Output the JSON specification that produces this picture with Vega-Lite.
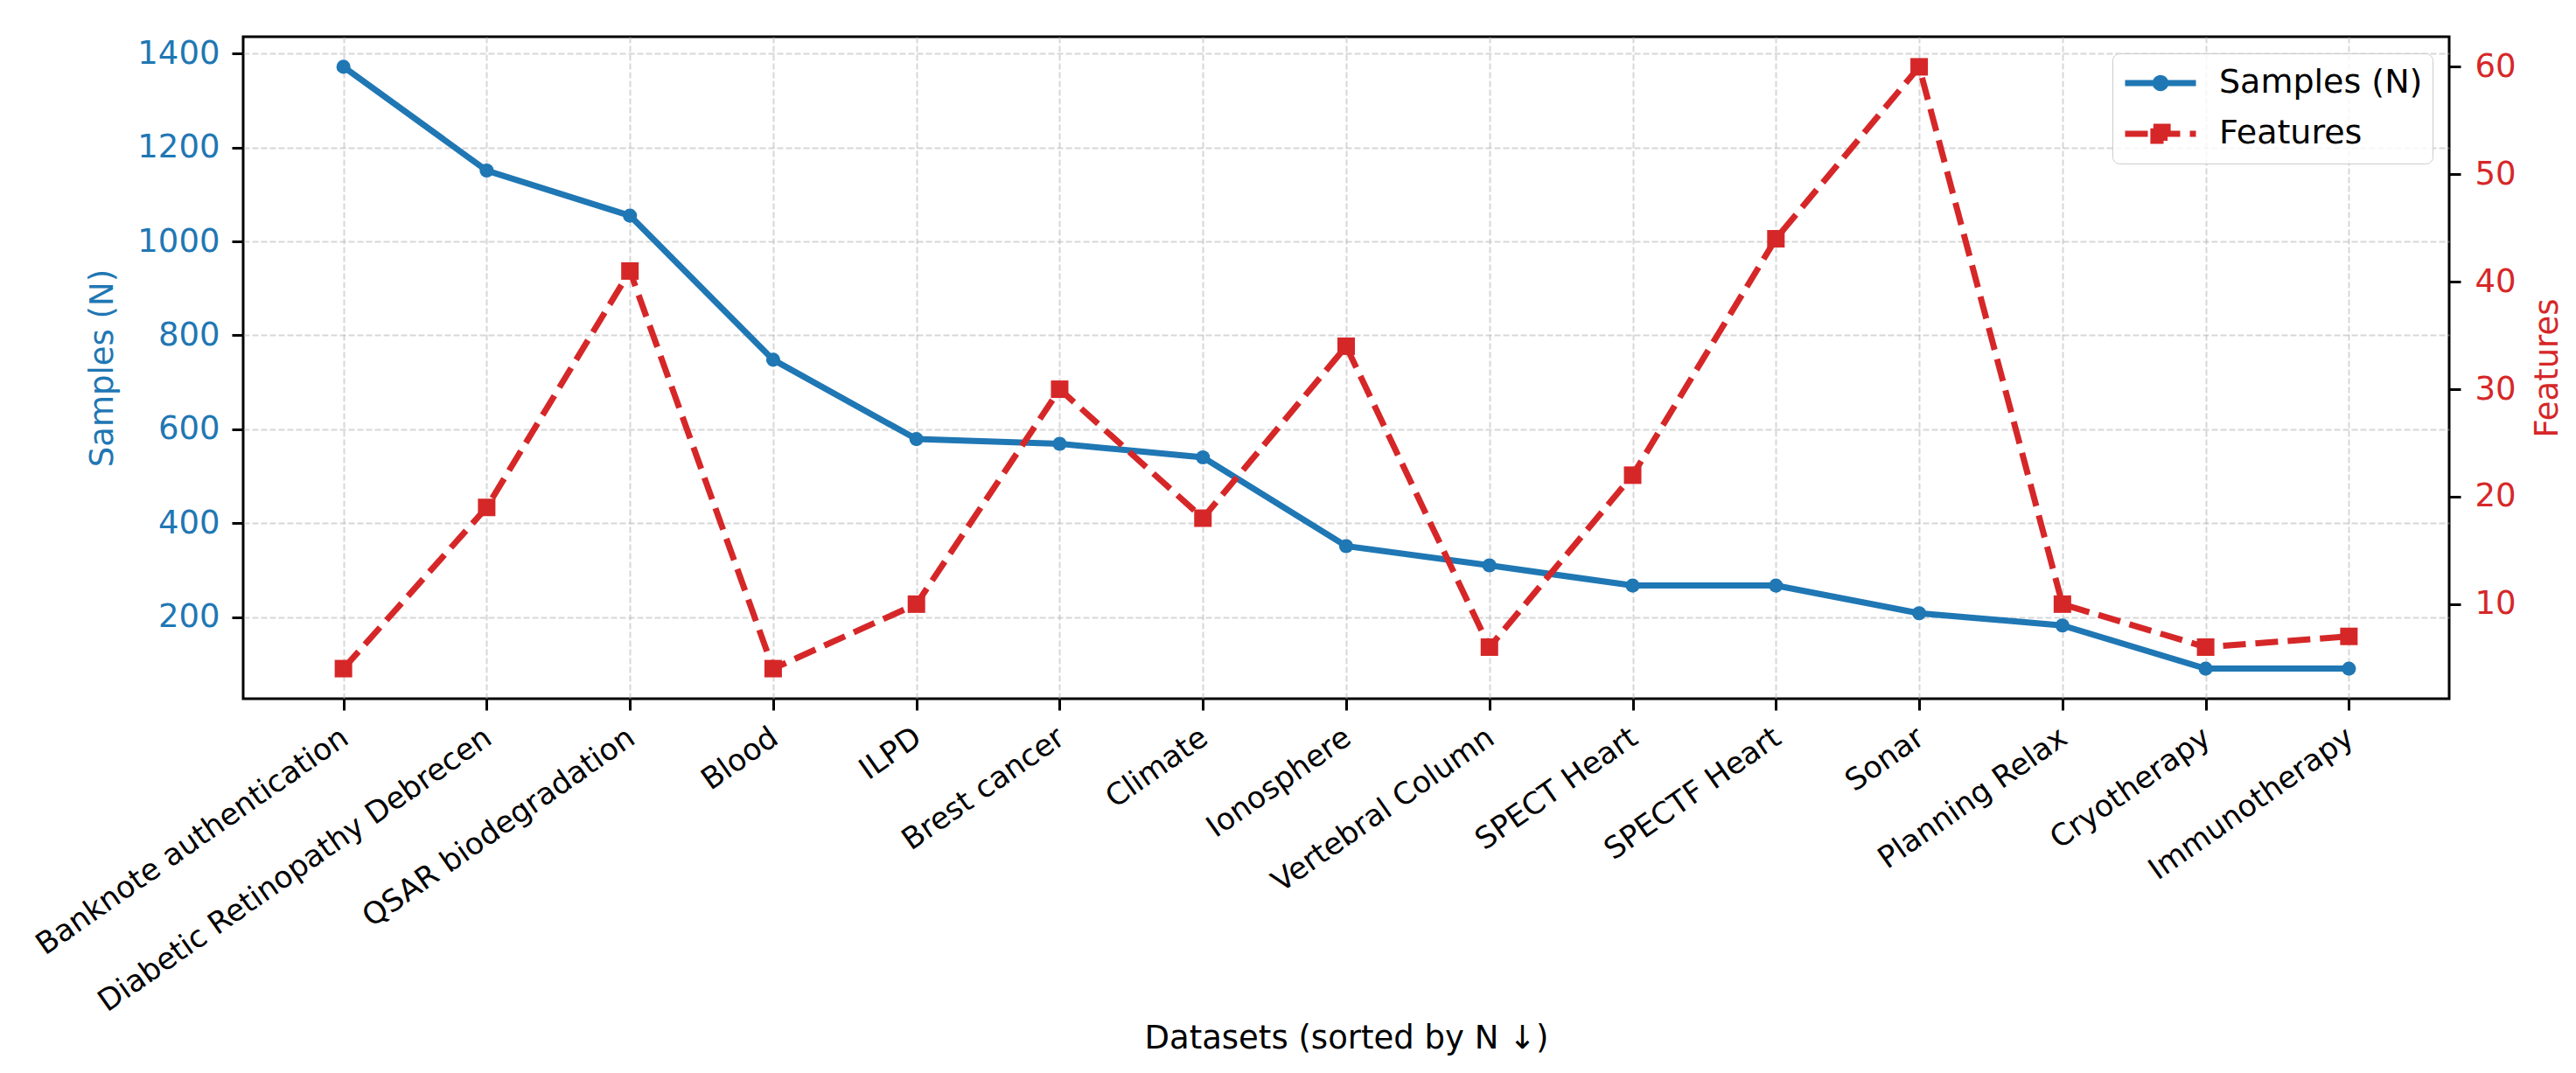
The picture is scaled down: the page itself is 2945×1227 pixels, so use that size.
{
  "$schema": "https://vega.github.io/schema/vega-lite/v6.json",
  "width": 2522,
  "height": 757,
  "autosize": "none",
  "padding": {"left": 278, "top": 42, "right": 145, "bottom": 428},
  "background": "white",
  "data": {
    "values": [
      {"dataset": "Banknote authentication", "n": 1372, "features": 4},
      {"dataset": "Diabetic Retinopathy Debrecen", "n": 1151, "features": 19},
      {"dataset": "QSAR biodegradation", "n": 1055, "features": 41},
      {"dataset": "Blood", "n": 748, "features": 4},
      {"dataset": "ILPD", "n": 579, "features": 10},
      {"dataset": "Brest cancer", "n": 569, "features": 30},
      {"dataset": "Climate", "n": 540, "features": 18},
      {"dataset": "Ionosphere", "n": 351, "features": 34},
      {"dataset": "Vertebral Column", "n": 310, "features": 6},
      {"dataset": "SPECT Heart", "n": 267, "features": 22},
      {"dataset": "SPECTF Heart", "n": 267, "features": 44},
      {"dataset": "Sonar", "n": 208, "features": 60},
      {"dataset": "Planning Relax", "n": 182, "features": 10},
      {"dataset": "Cryotherapy", "n": 90, "features": 6},
      {"dataset": "Immunotherapy", "n": 90, "features": 7}
    ]
  },
  "encoding": {
    "x": {
      "field": "dataset",
      "type": "nominal",
      "sort": null,
      "scale": {"type": "point", "padding": 0.7},
      "axis": {
        "title": "Datasets (sorted by N ↓)",
        "titleFontSize": 37,
        "titleFontWeight": "normal",
        "titleColor": "black",
        "titleY": 370,
        "titleBaseline": "top",
        "labelAngle": -35,
        "labelAlign": "right",
        "labelBaseline": "top",
        "labelFontSize": 34.5,
        "labelColor": "black",
        "labelPadding": 14,
        "labelOffset": -8,
        "labelLimit": 1000,
        "labelOverlap": false,
        "grid": true
      }
    }
  },
  "layer": [
    {
      "encoding": {
        "y": {
          "field": "n",
          "type": "quantitative",
          "scale": {"domain": [25.9, 1436.1], "nice": false, "zero": false},
          "axis": {
            "orient": "left",
            "values": [200, 400, 600, 800, 1000, 1200, 1400],
            "format": "d",
            "title": "Samples (N)",
            "titleColor": "#1f77b4",
            "titleFontSize": 37,
            "titleFontWeight": "normal",
            "titlePadding": 20,
            "labelColor": "#1f77b4",
            "labelFontSize": 37,
            "labelPadding": 14,
            "grid": true
          }
        }
      },
      "layer": [
        {
          "mark": {"type": "line", "strokeWidth": 7},
          "encoding": {
            "color": {
              "datum": "Samples (N)",
              "type": "nominal",
              "scale": {"domain": ["Samples (N)", "Features"], "range": ["#1f77b4", "#d62728"]},
              "legend": {
                "title": null,
                "orient": "top-right",
                "offset": 19,
                "padding": 11,
                "labelFont": "DejaVu Sans",
                "labelFontSize": 38,
                "labelColor": "black",
                "labelOffset": 23,
                "labelLimit": 1000,
                "symbolSize": 6561,
                "symbolStrokeWidth": 7,
                "clipHeight": 46,
                "rowPadding": 12,
                "strokeColor": "#cccccc",
                "fillColor": "rgba(255,255,255,0.8)",
                "cornerRadius": 8,
                "encode": {
                  "symbols": {
                    "update": {
                      "shape": {"signal": "datum.value === 'Features' ? 'M-1,0L1,0M-0.2,-0.2L0.2,-0.2L0.2,0.2L-0.2,0.2Z' : 'M-1,0L1,0M-0.14,0A0.14,0.14,0,1,0,0.14,0A0.14,0.14,0,1,0,-0.14,0Z'"},
                      "fill": {"signal": "datum.value === 'Features' ? '#d62728' : '#1f77b4'"},
                      "stroke": {"signal": "datum.value === 'Features' ? '#d62728' : '#1f77b4'"},
                      "strokeDash": {"signal": "datum.value === 'Features' ? [26, 11] : [1, 0]"},
                      "strokeWidth": {"value": 7},
                      "size": {"value": 6561},
                      "opacity": {"value": 1}
                    }
                  }
                }
              }
            }
          }
        },
        {
          "mark": {"type": "point", "filled": true, "shape": "circle", "size": 260, "opacity": 1},
          "encoding": {"color": {"datum": "Samples (N)", "type": "nominal"}}
        }
      ]
    },
    {
      "encoding": {
        "y": {
          "field": "features",
          "type": "quantitative",
          "scale": {"domain": [1.2, 62.8], "nice": false, "zero": false},
          "axis": {
            "orient": "right",
            "values": [10, 20, 30, 40, 50, 60],
            "title": "Features",
            "titleColor": "#d62728",
            "titleFontSize": 37,
            "titleFontWeight": "normal",
            "titleAngle": 270,
            "titleBaseline": "top",
            "titlePadding": 18,
            "labelColor": "#d62728",
            "labelFontSize": 37,
            "labelPadding": 16,
            "grid": false
          }
        }
      },
      "layer": [
        {
          "mark": {"type": "line", "strokeWidth": 7, "strokeDash": [26, 11]},
          "encoding": {"color": {"datum": "Features", "type": "nominal"}}
        },
        {
          "mark": {"type": "point", "filled": true, "shape": "square", "size": 400, "opacity": 1},
          "encoding": {"color": {"datum": "Features", "type": "nominal"}}
        }
      ]
    }
  ],
  "resolve": {"scale": {"y": "independent"}},
  "config": {
    "font": "DejaVu Sans",
    "view": {"stroke": "black", "strokeWidth": 3},
    "axis": {
      "domain": false,
      "tickColor": "black",
      "tickWidth": 3,
      "tickSize": 13,
      "gridColor": "#b0b0b0",
      "gridOpacity": 0.5,
      "gridDash": [7, 3],
      "gridWidth": 2,
      "labelFont": "DejaVu Sans",
      "titleFont": "DejaVu Sans"
    }
  }
}
